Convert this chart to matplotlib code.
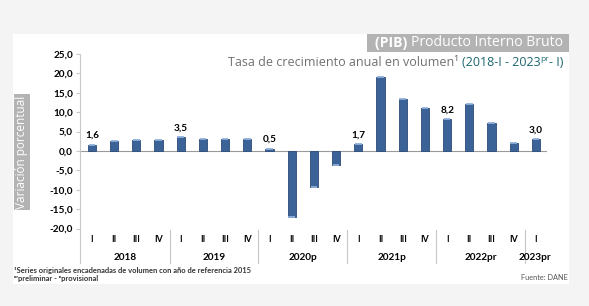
import matplotlib.pyplot as plt
from matplotlib.patches import Rectangle
from matplotlib.transforms import blended_transform_factory

quarters = ["I", "II", "III", "IV"] * 5 + ["I"]
years = ["2018", "2019", "2020p", "2021p", "2022pr", "2023pr"]
values = [1.6, 2.6, 2.8, 2.8,
          3.5, 3.1, 3.1, 3.0,
          0.5, -16.9, -9.2, -3.6,
          1.7, 19.0, 13.5, 11.0,
          8.2, 12.2, 7.3, 2.0,
          3.0]
labelled = [0, 4, 8, 12, 16, 20]
yticks = [25, 20, 15, 10, 5, 0, -5, -10, -15, -20]

W, H = 589, 306
fig = plt.figure(figsize=(W / 100, H / 100), dpi=100)
fig.patch.set_facecolor("#f4f4f4")

# white panel
fig.add_artist(Rectangle((13 / W, (H - 284) / H), (569 - 13) / W, (284 - 34) / H,
                         transform=fig.transFigure, facecolor="white", edgecolor="none", zorder=0))
# title box
fig.add_artist(Rectangle((367 / W, (H - 52) / H), (569 - 367) / W, 18 / H,
                         transform=fig.transFigure, facecolor="#b3b3b3", edgecolor="none", zorder=1))

ax = fig.add_axes([80 / W, 77.4 / H, (547 - 80) / W, 174.6 / H])
ax.set_zorder(3)
ax.set_facecolor("none")
x = list(range(len(values)))
ax.bar(x, values, width=0.37, color="#3c6398", edgecolor="#2b4b78", linewidth=0.6, zorder=3)
# light caps for the 3D look
for xi, v in zip(x, values):
    ax.plot([xi - 0.15, xi + 0.15], [v, v], color="#8fb0dc", lw=1.3, zorder=4,
            solid_capstyle="butt")

left, right = -0.54, 20.5
ax.set_xlim(left, right)
ax.set_ylim(-20, 25)
ax.axhline(0, color="#9a9a9a", lw=0.8, zorder=2)

for s in ["top", "right", "bottom"]:
    ax.spines[s].set_visible(False)
ax.spines["left"].set_color("#c8c8c8")
ax.set_xticks([])
ax.set_yticks(yticks)
ax.set_yticklabels([f"{t:.1f}".replace(".", ",") for t in yticks],
                   fontfamily="Lato", fontweight="bold", fontsize=7.2)
ax.tick_params(axis="y", length=3, color="#c8c8c8", pad=2)

for i in labelled:
    ax.text(i, values[i] + 1.3, f"{values[i]:.1f}".replace(".", ","), ha="center",
            va="bottom", fontfamily="Lato", fontweight="bold", fontsize=7.2)

tr = blended_transform_factory(ax.transData, ax.transAxes)
for xi, q in zip(x, quarters):
    ax.text(xi, -0.065, q, transform=tr, ha="center", va="center",
            fontfamily="Lato", fontweight="bold", fontsize=6.3)
year_pos = [1.5, 5.5, 9.5, 13.5, 17.5, 19.95]
for xp, yr in zip(year_pos, years):
    ax.text(xp, -0.163, yr, transform=tr, ha="center", va="center",
            fontfamily="Lato", fontweight="bold", fontsize=7.2)
for sep in [3.5, 7.5, 11.5, 15.5, 19.5]:
    ax.plot([sep, sep], [-0.008, -0.197], transform=tr, color="#c8c8c8", lw=0.8, clip_on=False)
ax.plot([left, left], [0, -0.197], transform=tr, color="#c8c8c8", lw=0.8, clip_on=False)

# title
t1 = ax.annotate("Producto Interno Bruto", xy=(563 / W, (H - 43) / H), xycoords="figure fraction",
                 ha="right", va="center", fontfamily="Open Sans", fontsize=10.1, color="white",
                 annotation_clip=False)
ax.annotate("(PIB) ", xy=(0, 0), xycoords=t1, ha="right", va="bottom",
            fontfamily="Open Sans", fontweight="bold", fontsize=10.1, color="white",
            annotation_clip=False)

# subtitle
teal = "#1d6670"
s3 = ax.annotate("- I)", xy=(563 / W, (H - 63) / H), xycoords="figure fraction",
                 ha="right", va="center", fontfamily="Open Sans", fontsize=9, color=teal,
                 annotation_clip=False)
ax.annotate("pr", xy=(0, 0.5), xycoords=s3, ha="right", va="bottom",
            fontfamily="Open Sans", fontsize=6, color=teal, annotation_clip=False)
s1 = ax.annotate("(2018-I - 2023", xy=(0, 0), xycoords=s3, ha="right", va="bottom",
                 fontfamily="Open Sans", fontsize=9, color=teal, annotation_clip=False,
                 xytext=(-6, 0), textcoords="offset points")
ax.annotate("Tasa de crecimiento anual en volumen¹ ", xy=(0, 0), xycoords=s1, ha="right",
            va="bottom", fontfamily="Open Sans", fontsize=9, color="#707070",
            annotation_clip=False)

# y label
fig.text(22 / W, (H - 152) / H, "Variación porcentual", rotation=90, ha="center", va="center",
         fontfamily="Open Sans", fontsize=8.5, color="white",
         bbox=dict(boxstyle="square,pad=0.15", facecolor="#b3b3b3", edgecolor="none"))

# footnotes
fig.text(14 / W, (H - 270) / H, "¹Series originales encadenadas de volumen con año de referencia 2015",
         ha="left", va="center", family=["Lato", "DejaVu Sans"], fontweight="bold",
         fontsize=5.4, color="#333333")
fig.text(14 / W, (H - 279) / H, "ᵖʳpreliminar - ᵖprovisional",
         ha="left", va="center", family=["Lato", "DejaVu Sans"], fontweight="bold",
         fontsize=5.4, color="#333333")
fig.text(568 / W, (H - 278) / H, "Fuente: DANE", ha="right", va="center",
         fontfamily="Lato", fontsize=5.3, color="#555555")

fig.savefig("out.png", dpi=100, facecolor=fig.get_facecolor())
